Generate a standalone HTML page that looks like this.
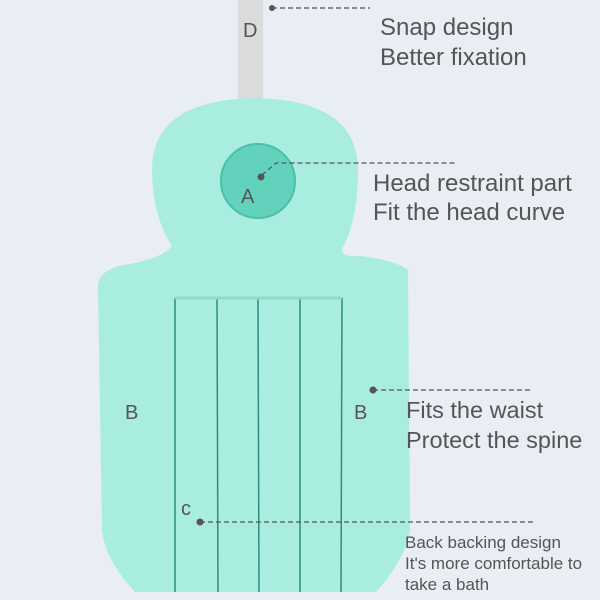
<!DOCTYPE html><html><head><style>body{margin:0;background:#e8eef3}svg{display:block}text{font-family:"Liberation Sans",sans-serif;fill:#555}</style></head><body>
<svg width="600" height="600" viewBox="0 0 600 600">
<rect width="600" height="600" fill="#e8eef3"/>
<rect x="238" y="0" width="25" height="110" fill="#d9dbdd"/>
<path d="M345,243 Q335,258 360,256 Q395,260 408,270 L410,530 Q405,560 376,592 L135,592 Q105,560 102,530 L98,285 Q100,268 130,264 Q162,258 172,246 Q152,215 152,170 Q152,100 255,98 Q358,100 358,170 Q358,215 345,243 Z" fill="#a8ede0"/>
<path d="M175,298 L175,592 M217,298 L218,592 M258,298 L259,592 M300,298 L300,592 M342,298 L341,592" stroke="#2d8c7c" stroke-width="1.5" fill="none"/>
<path d="M175,298 L342,298" stroke="#8fdccc" stroke-width="3"/>
<circle cx="258" cy="181" r="37" fill="#62d2bd" stroke="#4bbfa8" stroke-width="2"/>
<g stroke="#555" stroke-width="1.2" stroke-dasharray="5,3" fill="none">
<path d="M272,8 L370,8"/>
<path d="M262,175 L276,163 L455,163"/>
<path d="M373,390 L530,390"/>
<path d="M200,522 L535,522"/>
</g>
<g fill="#555"><circle cx="272" cy="8" r="3"/><circle cx="261" cy="177" r="3.5"/><circle cx="373" cy="390" r="3.5"/><circle cx="200" cy="522" r="3.5"/></g>
<text x="243" y="37" font-size="20">D</text>
<text x="241" y="203" font-size="20">A</text>
<text x="125" y="419" font-size="20">B</text>
<text x="354" y="419" font-size="20">B</text>
<text x="181" y="515" font-size="20">c</text>
<g font-size="24"><text x="380" y="35">Snap design</text><text x="380" y="65">Better fixation</text>
<text x="373" y="191">Head restraint part</text><text x="373" y="220">Fit the head curve</text>
<text x="406" y="418" font-size="23.5">Fits the waist</text><text x="406" y="448" font-size="23.5">Protect the spine</text></g>
<g font-size="17"><text x="405" y="548">Back backing design</text><text x="405" y="569">It's more comfortable to</text><text x="405" y="590">take a bath</text></g>
</svg></body></html>
